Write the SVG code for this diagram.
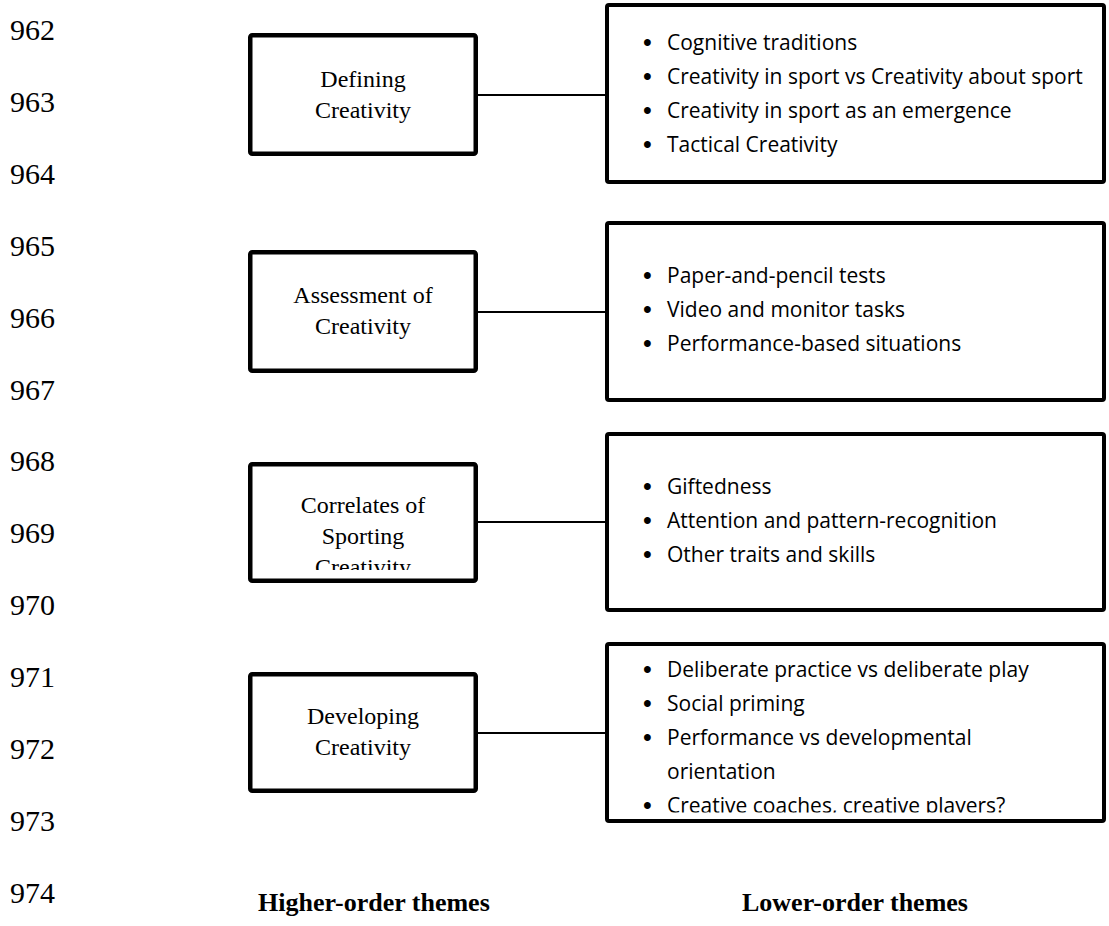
<svg xmlns="http://www.w3.org/2000/svg" width="1109" height="926" viewBox="0 0 1109 926">
<style>
.ln{font-family:"Liberation Serif","Times New Roman",serif;font-size:30px;fill:#000}
.hb{fill:#fff;stroke:#000;stroke-width:4.5}
.lb{fill:#fff;stroke:#000;stroke-width:4}
.ht{font-family:"Liberation Serif","Times New Roman",serif;font-size:24px;fill:#000;text-anchor:middle}
.bt{font-family:"Open Sans","Noto Sans",sans-serif;font-size:21px;fill:#000}
.bu{font-family:"Liberation Sans",Arial,sans-serif;font-size:25px;fill:#000}
.cap{font-family:"Liberation Serif","Times New Roman",serif;font-size:26px;font-weight:bold;fill:#000}
.con{stroke:#000;stroke-width:2;fill:none}
</style>
<defs>
<clipPath id="clip3"><rect x="250" y="460" width="226" height="110"/></clipPath>
<clipPath id="clip4"><rect x="607" y="640" width="497" height="172.5"/></clipPath>
</defs>
<rect width="1109" height="926" fill="#fff"/>
<g id="line-numbers">
<text class="ln" x="10" y="40">962</text>
<text class="ln" x="10" y="112">963</text>
<text class="ln" x="10" y="184">964</text>
<text class="ln" x="10" y="256">965</text>
<text class="ln" x="10" y="328">966</text>
<text class="ln" x="10" y="400">967</text>
<text class="ln" x="10" y="471">968</text>
<text class="ln" x="10" y="543">969</text>
<text class="ln" x="10" y="615">970</text>
<text class="ln" x="10" y="687">971</text>
<text class="ln" x="10" y="759">972</text>
<text class="ln" x="10" y="831">973</text>
<text class="ln" x="10" y="903">974</text>
</g>
<g id="connectors">
<line class="con" x1="478" y1="95" x2="607" y2="95"/>
<line class="con" x1="478" y1="312" x2="607" y2="312"/>
<line class="con" x1="478" y1="522" x2="607" y2="522"/>
<line class="con" x1="478" y1="733" x2="607" y2="733"/>
</g>
<g id="h1">
<rect class="hb" x="250.25" y="35.25" width="225.5" height="118.5" rx="2"/>
<text class="ht" x="363" y="87">Defining</text>
<text class="ht" x="363" y="118">Creativity</text>
</g>
<g id="h2">
<rect class="hb" x="250.25" y="252.25" width="225.5" height="118.5" rx="2"/>
<text class="ht" x="363" y="303">Assessment of</text>
<text class="ht" x="363" y="334">Creativity</text>
</g>
<g id="h3">
<rect class="hb" x="250.25" y="464.25" width="225.5" height="116.5" rx="2"/>
<g clip-path="url(#clip3)">
<text class="ht" x="363" y="513">Correlates of</text>
<text class="ht" x="363" y="544">Sporting</text>
<text class="ht" x="363" y="575">Creativity</text>
</g>
</g>
<g id="h4">
<rect class="hb" x="250.25" y="674.25" width="225.5" height="116.5" rx="2"/>
<text class="ht" x="363" y="724">Developing</text>
<text class="ht" x="363" y="755">Creativity</text>
</g>
<g id="l1">
<rect class="lb" x="607" y="5" width="497" height="177" rx="2"/>
<text class="bu" x="643" y="51">•</text><text class="bt" x="667" y="50">Cognitive traditions</text>
<text class="bu" x="643" y="85">•</text><text class="bt" x="667" y="84">Creativity in sport vs Creativity about sport</text>
<text class="bu" x="643" y="119">•</text><text class="bt" x="667" y="118">Creativity in sport as an emergence</text>
<text class="bu" x="643" y="153">•</text><text class="bt" x="667" y="152">Tactical Creativity</text>
</g>
<g id="l2">
<rect class="lb" x="607" y="223" width="497" height="177" rx="2"/>
<text class="bu" x="643" y="284">•</text><text class="bt" x="667" y="283">Paper-and-pencil tests</text>
<text class="bu" x="643" y="318">•</text><text class="bt" x="667" y="317">Video and monitor tasks</text>
<text class="bu" x="643" y="352">•</text><text class="bt" x="667" y="351">Performance-based situations</text>
</g>
<g id="l3">
<rect class="lb" x="607" y="434" width="497" height="176" rx="2"/>
<text class="bu" x="643" y="495">•</text><text class="bt" x="667" y="494">Giftedness</text>
<text class="bu" x="643" y="529">•</text><text class="bt" x="667" y="528">Attention and pattern-recognition</text>
<text class="bu" x="643" y="563">•</text><text class="bt" x="667" y="562">Other traits and skills</text>
</g>
<g id="l4">
<rect class="lb" x="607" y="644" width="497" height="177" rx="2"/>
<g clip-path="url(#clip4)">
<text class="bu" x="643" y="678">•</text><text class="bt" x="667" y="677">Deliberate practice vs deliberate play</text>
<text class="bu" x="643" y="712">•</text><text class="bt" x="667" y="711">Social priming</text>
<text class="bu" x="643" y="746">•</text><text class="bt" x="667" y="745">Performance vs developmental</text>
<text class="bt" x="667" y="779">orientation</text>
<text class="bu" x="643" y="814">•</text><text class="bt" x="667" y="813">Creative coaches, creative players?</text>
</g>
</g>
<g id="captions">
<text class="cap" x="258" y="911">Higher-order themes</text>
<text class="cap" x="742" y="911">Lower-order themes</text>
</g>
</svg>
